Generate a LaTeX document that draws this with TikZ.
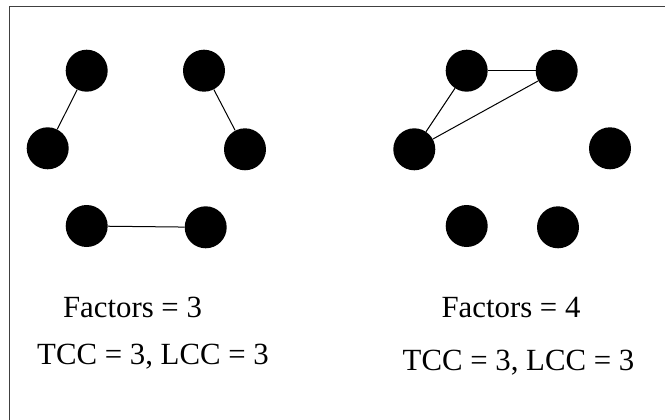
\documentclass[tikz,border=0pt]{standalone}
\usepackage{fontspec}
\setmainfont{Liberation Serif}
\usepackage{tikz}

\begin{document}
\begin{tikzpicture} [x = 1pt, y = -1pt,
  vertex/.style = {circle,
    fill = black,
    inner sep = 0pt,
    minimum size = 42pt},
  edge/.style = {draw, line width = 1pt},
  caption/.style = {anchor = base,
    inner sep = 0pt,
    font = \fontsize{30.8}{36}\selectfont}]

\useasboundingbox (0,0) rectangle (665,420);
\draw [line width = 1.4pt, black!75] (9.7,421) -- (9.7,6.7) -- (666,6.7);

% three factors
\node (A) at (86.7,70.7) [vertex] {};
\node (B) at (204,70.7) [vertex] {};
\node (C) at (47.7,148.3) [vertex] {};
\node (D) at (245,149.3) [vertex] {};
\node (E) at (86.7,226) [vertex] {};
\node (F) at (205.7,227.3) [vertex] {};

\path [edge] (A) -- (C);
\path [edge] (B) -- (D);
\path [edge] (E) -- (F);

% four factors
\node (G) at (466.7,70.7) [vertex] {};
\node (H) at (556.7,70.7) [vertex] {};
\node (I) at (414.3,149.3) [vertex] {};
\node (J) at (610,148.3) [vertex] {};
\node (K) at (466.7,226) [vertex] {};
\node (L) at (558,227.3) [vertex] {};

\path [edge] (G) -- (H);
\path [edge] (G) -- (I);
\path [edge] (H) -- (I);

\node (f3) at (132.5,317.7) [caption] {Factors = 3};
\node (c3) at (153,364.3) [caption] {TCC = 3, LCC = 3};
\node (f4) at (511,317.7) [caption] {Factors = 4};
\node (c4) at (518.5,370) [caption] {TCC = 3, LCC = 3};

\end{tikzpicture}
\end{document}
